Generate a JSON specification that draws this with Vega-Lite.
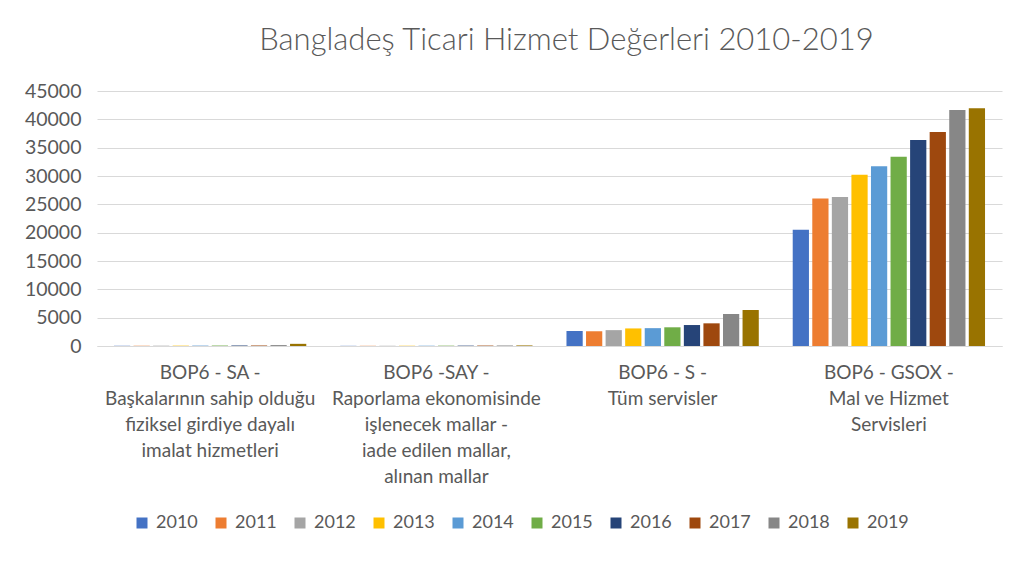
{
  "$schema": "https://vega.github.io/schema/vega-lite/v6.json",
  "autosize": {"type": "none"},
  "padding": {"left": 97, "top": 91, "right": 18, "bottom": 216},
  "width": 905,
  "height": 255,
  "background": "white",
  "title": {
    "text": "Bangladeş Ticari Hizmet Değerleri 2010-2019",
    "font": "Lato",
    "fontSize": 31,
    "fontWeight": 300,
    "color": "#595959",
    "anchor": "middle",
    "dx": 17,
    "offset": 24
  },
  "data": {
    "values": [
      {"kategori": "BOP6 - SA -\nBaşkalarının sahip olduğu\nfiziksel girdiye dayalı\nimalat hizmetleri", "yil": "2010", "deger": 40},
      {"kategori": "BOP6 - SA -\nBaşkalarının sahip olduğu\nfiziksel girdiye dayalı\nimalat hizmetleri", "yil": "2011", "deger": 45},
      {"kategori": "BOP6 - SA -\nBaşkalarının sahip olduğu\nfiziksel girdiye dayalı\nimalat hizmetleri", "yil": "2012", "deger": 55},
      {"kategori": "BOP6 - SA -\nBaşkalarının sahip olduğu\nfiziksel girdiye dayalı\nimalat hizmetleri", "yil": "2013", "deger": 60},
      {"kategori": "BOP6 - SA -\nBaşkalarının sahip olduğu\nfiziksel girdiye dayalı\nimalat hizmetleri", "yil": "2014", "deger": 70},
      {"kategori": "BOP6 - SA -\nBaşkalarının sahip olduğu\nfiziksel girdiye dayalı\nimalat hizmetleri", "yil": "2015", "deger": 80},
      {"kategori": "BOP6 - SA -\nBaşkalarının sahip olduğu\nfiziksel girdiye dayalı\nimalat hizmetleri", "yil": "2016", "deger": 90},
      {"kategori": "BOP6 - SA -\nBaşkalarının sahip olduğu\nfiziksel girdiye dayalı\nimalat hizmetleri", "yil": "2017", "deger": 110},
      {"kategori": "BOP6 - SA -\nBaşkalarının sahip olduğu\nfiziksel girdiye dayalı\nimalat hizmetleri", "yil": "2018", "deger": 160},
      {"kategori": "BOP6 - SA -\nBaşkalarının sahip olduğu\nfiziksel girdiye dayalı\nimalat hizmetleri", "yil": "2019", "deger": 380},
      {"kategori": "BOP6 -SAY -\nRaporlama ekonomisinde\nişlenecek mallar -\niade edilen mallar,\nalınan mallar", "yil": "2010", "deger": 30},
      {"kategori": "BOP6 -SAY -\nRaporlama ekonomisinde\nişlenecek mallar -\niade edilen mallar,\nalınan mallar", "yil": "2011", "deger": 35},
      {"kategori": "BOP6 -SAY -\nRaporlama ekonomisinde\nişlenecek mallar -\niade edilen mallar,\nalınan mallar", "yil": "2012", "deger": 40},
      {"kategori": "BOP6 -SAY -\nRaporlama ekonomisinde\nişlenecek mallar -\niade edilen mallar,\nalınan mallar", "yil": "2013", "deger": 45},
      {"kategori": "BOP6 -SAY -\nRaporlama ekonomisinde\nişlenecek mallar -\niade edilen mallar,\nalınan mallar", "yil": "2014", "deger": 50},
      {"kategori": "BOP6 -SAY -\nRaporlama ekonomisinde\nişlenecek mallar -\niade edilen mallar,\nalınan mallar", "yil": "2015", "deger": 60},
      {"kategori": "BOP6 -SAY -\nRaporlama ekonomisinde\nişlenecek mallar -\niade edilen mallar,\nalınan mallar", "yil": "2016", "deger": 65},
      {"kategori": "BOP6 -SAY -\nRaporlama ekonomisinde\nişlenecek mallar -\niade edilen mallar,\nalınan mallar", "yil": "2017", "deger": 75},
      {"kategori": "BOP6 -SAY -\nRaporlama ekonomisinde\nişlenecek mallar -\niade edilen mallar,\nalınan mallar", "yil": "2018", "deger": 90},
      {"kategori": "BOP6 -SAY -\nRaporlama ekonomisinde\nişlenecek mallar -\niade edilen mallar,\nalınan mallar", "yil": "2019", "deger": 100},
      {"kategori": "BOP6 - S -\nTüm servisler", "yil": "2010", "deger": 2650},
      {"kategori": "BOP6 - S -\nTüm servisler", "yil": "2011", "deger": 2600},
      {"kategori": "BOP6 - S -\nTüm servisler", "yil": "2012", "deger": 2800},
      {"kategori": "BOP6 - S -\nTüm servisler", "yil": "2013", "deger": 3100},
      {"kategori": "BOP6 - S -\nTüm servisler", "yil": "2014", "deger": 3150},
      {"kategori": "BOP6 - S -\nTüm servisler", "yil": "2015", "deger": 3300},
      {"kategori": "BOP6 - S -\nTüm servisler", "yil": "2016", "deger": 3700},
      {"kategori": "BOP6 - S -\nTüm servisler", "yil": "2017", "deger": 4000},
      {"kategori": "BOP6 - S -\nTüm servisler", "yil": "2018", "deger": 5650},
      {"kategori": "BOP6 - S -\nTüm servisler", "yil": "2019", "deger": 6350},
      {"kategori": "BOP6 - GSOX -\nMal ve Hizmet\nServisleri", "yil": "2010", "deger": 20500},
      {"kategori": "BOP6 - GSOX -\nMal ve Hizmet\nServisleri", "yil": "2011", "deger": 26050},
      {"kategori": "BOP6 - GSOX -\nMal ve Hizmet\nServisleri", "yil": "2012", "deger": 26300},
      {"kategori": "BOP6 - GSOX -\nMal ve Hizmet\nServisleri", "yil": "2013", "deger": 30200},
      {"kategori": "BOP6 - GSOX -\nMal ve Hizmet\nServisleri", "yil": "2014", "deger": 31700},
      {"kategori": "BOP6 - GSOX -\nMal ve Hizmet\nServisleri", "yil": "2015", "deger": 33400},
      {"kategori": "BOP6 - GSOX -\nMal ve Hizmet\nServisleri", "yil": "2016", "deger": 36350},
      {"kategori": "BOP6 - GSOX -\nMal ve Hizmet\nServisleri", "yil": "2017", "deger": 37750},
      {"kategori": "BOP6 - GSOX -\nMal ve Hizmet\nServisleri", "yil": "2018", "deger": 41650},
      {"kategori": "BOP6 - GSOX -\nMal ve Hizmet\nServisleri", "yil": "2019", "deger": 41950}
    ]
  },
  "mark": {"type": "bar"},
  "encoding": {
    "x": {
      "field": "kategori",
      "type": "nominal",
      "sort": null,
      "title": null,
      "scale": {"paddingInner": 0.15, "paddingOuter": 0.075},
      "axis": {
        "labelExpr": "split(datum.label, '\\n')",
        "labelAngle": 0,
        "labelFont": "Lato",
        "labelFontSize": 19,
        "labelLineHeight": 26,
        "labelColor": "#595959",
        "labelPadding": 17,
        "labelLimit": 0,
        "ticks": false,
        "domainColor": "#d9d9d9",
        "domainWidth": 1
      }
    },
    "xOffset": {
      "field": "yil",
      "type": "nominal",
      "scale": {"paddingInner": 0.17}
    },
    "y": {
      "field": "deger",
      "type": "quantitative",
      "title": null,
      "scale": {"domain": [0, 45000]},
      "axis": {
        "values": [0, 5000, 10000, 15000, 20000, 25000, 30000, 35000, 40000, 45000],
        "format": "d",
        "labelFont": "Lato",
        "labelFontSize": 19.5,
        "labelColor": "#595959",
        "labelPadding": 16,
        "ticks": false,
        "domain": false,
        "gridColor": "#d9d9d9",
        "gridWidth": 1
      }
    },
    "color": {
      "field": "yil",
      "type": "nominal",
      "title": null,
      "scale": {
        "domain": ["2010", "2011", "2012", "2013", "2014", "2015", "2016", "2017", "2018", "2019"],
        "range": ["#4472C4", "#ED7D31", "#A5A5A5", "#FFC000", "#5B9BD5", "#70AD47", "#264478", "#9E480E", "#878787", "#997300"]
      },
      "legend": {
        "orient": "none",
        "direction": "horizontal",
        "legendX": 36,
        "legendY": 423,
        "symbolType": "square",
        "symbolSize": 121,
        "symbolStrokeWidth": 0,
        "labelFont": "Lato",
        "labelFontSize": 18,
        "labelColor": "#595959",
        "labelOffset": 5,
        "columnPadding": 14
      }
    }
  },
  "config": {
    "view": {"stroke": null}
  }
}
